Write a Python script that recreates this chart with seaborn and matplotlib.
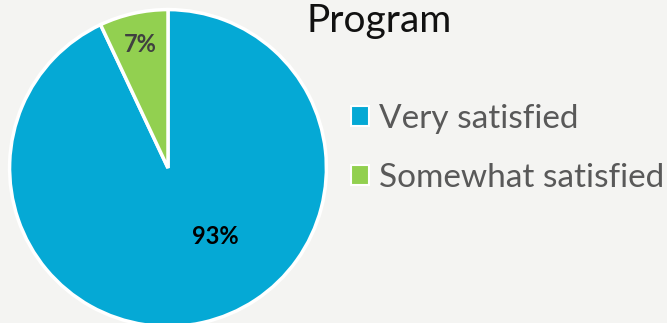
import matplotlib
matplotlib.use("Agg")
import matplotlib.pyplot as plt
import seaborn as sns
from matplotlib.patches import Patch

categories = ["Very satisfied", "Somewhat satisfied"]
values = [93, 7]
colors = ["#05A9D5", "#92D050"]
title = "Program"

sns.set_theme(style="white")
plt.rcParams["font.family"] = ["Lato", "DejaVu Sans"]

W, H = 667, 323
fig = plt.figure(figsize=(W / 100, H / 100), dpi=100)
fig.patch.set_facecolor("#F4F4F2")

cx, cy, r = 168, 168, 160
ax = fig.add_axes([(cx - r) / W, (H - cy - r) / H, 2 * r / W, 2 * r / H])
ax.set_facecolor("none")
wedges, texts, autotexts = ax.pie(
    values, colors=colors, startangle=90, counterclock=False,
    autopct=lambda p: f"{p:.0f}%", pctdistance=0.8,
    wedgeprops=dict(edgecolor="white", linewidth=2.5),
    textprops=dict(fontsize=17, fontweight="bold"),
)
autotexts[0].set_position((0.30, -0.43))
autotexts[0].set_color("#000000")
autotexts[1].set_color("#404040")
ax.set_xlim(-1.01, 1.01)
ax.set_ylim(-1.01, 1.01)
ax.set_aspect("equal")
ax.axis("off")

fig.text(307 / W, 1 - 32 / H, title, fontsize=28, color="#111111", ha="left", va="baseline")

handles = [Patch(facecolor=c, edgecolor="white", linewidth=1.5) for c in colors]
leg = fig.legend(handles, categories, loc="upper left",
                 bbox_to_anchor=(351 / W, 1 - 104 / H), frameon=False,
                 fontsize=24, handlelength=0.55, handleheight=0.55,
                 handletextpad=0.3, labelspacing=0.87, borderpad=0, borderaxespad=0)
for t in leg.get_texts():
    t.set_color("#595959")

fig.savefig("out.png", dpi=100, facecolor=fig.get_facecolor())
